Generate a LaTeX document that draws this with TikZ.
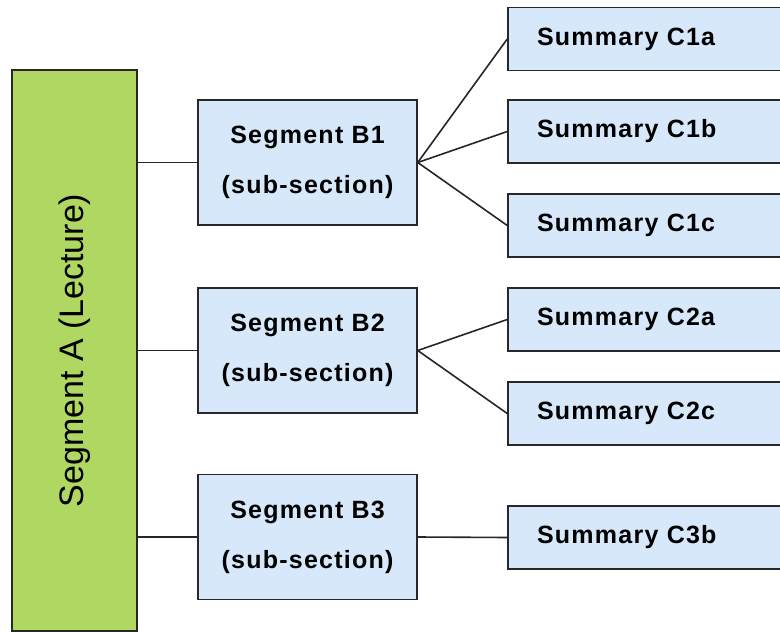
\documentclass[tikz,border=0pt]{standalone}
\usepackage{fontspec}
\setmainfont{Liberation Sans}
\newfontfamily\boxfont[LetterSpace=5]{Liberation Sans}
\definecolor{lgreen}{RGB}{176,215,98}
\definecolor{lblue}{RGB}{214,232,250}
\definecolor{edge}{RGB}{40,40,40}
\begin{document}
\begin{tikzpicture}[x=1pt,y=-1pt,
  abox/.style={draw=edge, line width=1.5pt, fill=lgreen, minimum width=125pt, minimum height=561pt, inner sep=0pt,
    font=\fontsize{34}{40}\selectfont},
  bbox/.style={draw=edge, line width=1.5pt, fill=lblue, minimum width=219pt, minimum height=125pt, inner sep=0pt,
    align=center, font=\boxfont\bfseries\fontsize{25}{50}\selectfont},
  cbox/.style={draw=edge, line width=1.5pt, fill=lblue, minimum height=63pt, text width=224pt, inner xsep=29pt, inner ysep=0pt,
    align=left, font=\boxfont\bfseries\fontsize{25}{30}\selectfont},
  link/.style={draw=black!85, line width=1.6pt}]
\useasboundingbox (0,0) rectangle (780,632);
\node[abox] (A) at (74.5,350.5) {\rotatebox{90}{Segment A (Lecture)}};
\node[bbox] (B1) at (307.5,162.5) {Segment B1\\(sub-section)};
\node[bbox] (B2) at (307.5,350.5) {Segment B2\\(sub-section)};
\node[bbox] (B3) at (307.5,537) {Segment B3\\(sub-section)};
\node[cbox] (C1a) at (649,39) {Summary C1a};
\node[cbox] (C1b) at (649,131.5) {Summary C1b};
\node[cbox] (C1c) at (649,225.5) {Summary C1c};
\node[cbox] (C2a) at (649,319.5) {Summary C2a};
\node[cbox] (C2c) at (649,413.5) {Summary C2c};
\node[cbox] (C3b) at (649,537.5) {Summary C3b};
\draw[link] (A.east |- B1.west) -- (B1.west);
\draw[link] (A.east |- B2.west) -- (B2.west);
\draw[link] (A.east |- B3.west) -- (B3.west);
\draw[link] (B1.east) -- (C1a.west);
\draw[link] (B1.east) -- (C1b.west);
\draw[link] (B1.east) -- (C1c.west);
\draw[link] (B2.east) -- (C2a.west);
\draw[link] (B2.east) -- (C2c.west);
\draw[link] (B3.east) -- (C3b.west);
\end{tikzpicture}
\end{document}
